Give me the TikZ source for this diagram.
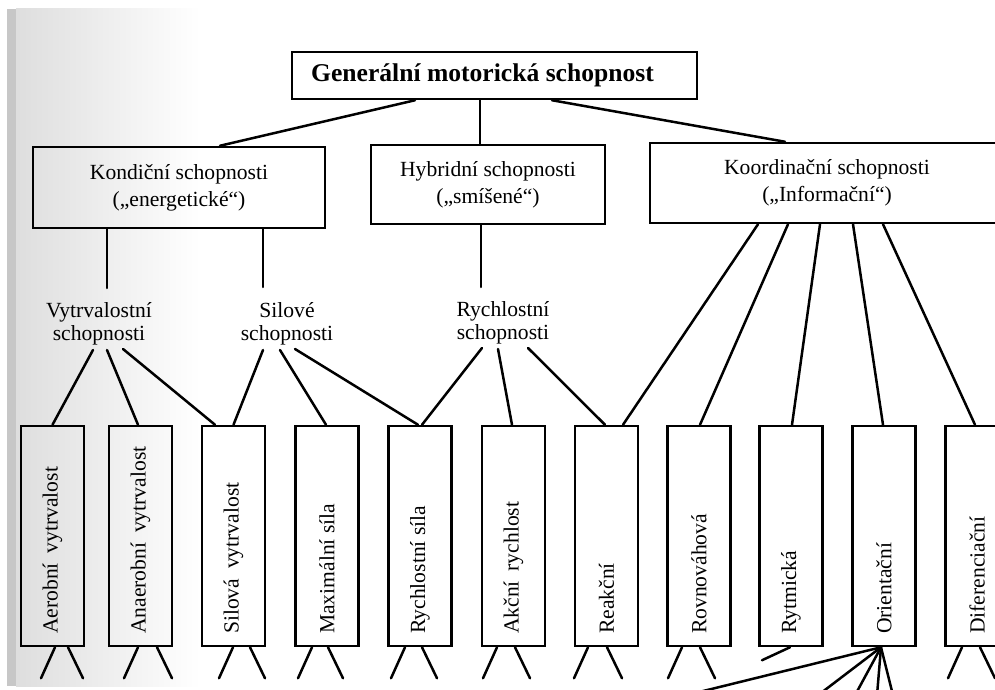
\documentclass[tikz,border=0pt]{standalone}
\usepackage{fontspec}
\setmainfont{Liberation Serif}
\usetikzlibrary{calc}
\begin{document}
\begin{tikzpicture}[x=0.5pt,y=-0.5pt]
\tikzset{
 ln/.style={line width=1.25pt, line cap=round},
 hbox/.style={draw, line width=1.25pt, inner sep=0pt, align=center, font=\fontsize{10.8}{13.5}\selectfont},
 vbox/.style={draw, line width=1.25pt, inner sep=0pt, minimum width=31.5pt, minimum height=110pt},
 vtext/.style={rotate=90, anchor=west, inner sep=0pt, font=\fontsize{10.8}{13}\selectfont},
 midlabel/.style={align=center, inner sep=0pt, font=\fontsize{10.8}{11.5}\selectfont},
}
\useasboundingbox (0,0) rectangle (995,690);
\clip (0,0) rectangle (995,690);
% scan shading at the left edge
\fill[black!22] (7,9) rectangle (16,686);
\shade[left color=black!13, right color=white] (16,9) rectangle (200,686);

% top
\node[hbox, minimum width=202.5pt, minimum height=23.5pt, font=\bfseries\fontsize{12.8}{15}\selectfont] (g) at (494.5,75.5) {Generální motorická schopnost\kern12pt};
\node[hbox, minimum width=146pt, minimum height=40.5pt] (kon) at (179,187.5) {Kondiční schopnosti\\(„energetické“)};
\node[hbox, minimum width=117pt, minimum height=39.5pt] (hyb) at (488,184.5) {Hybridní schopnosti\\(„smíšené“)};
\node[hbox, minimum width=177pt, minimum height=40pt] (koo) at (827,183) {Koordinační schopnosti\\(„Informační“)};

% middle labels
\node[midlabel] (vyt) at (99,324) {Vytrvalostní\\schopnosti};
\node[midlabel] (sil) at (287,324) {Silové\\schopnosti};
\node[midlabel] (ryc) at (503,323) {Rychlostní\\schopnosti};

% bottom boxes
\foreach \n/\x in {1/52.5, 2/140.5, 3/233.5, 4/327, 5/420, 6/513.5, 7/606.5, 8/699, 9/791, 10/884, 11/977}
  \node[vbox] (b\n) at (\x,536) {};
\node[vtext] (t1) at ($(b1.south)+(0,-13)$) {Aerobní\hspace{0.45em}vytrvalost};
\node[vtext] (t2) at ($(b2.south)+(0,-13)$) {Anaerobní\hspace{0.45em}vytrvalost};
\node[vtext] (t3) at ($(b3.south)+(0,-13)$) {Silová\hspace{0.45em}vytrvalost};
\node[vtext] (t4) at ($(b4.south)+(0,-13)$) {Maximální síla};
\node[vtext] (t5) at ($(b5.south)+(0,-13)$) {Rychlostní síla};
\node[vtext] (t6) at ($(b6.south)+(0,-13)$) {Akční\hspace{0.45em}rychlost};
\node[vtext] (t7) at ($(b7.south)+(0,-13)$) {Reakční};
\node[vtext] (t8) at ($(b8.south)+(0,-13)$) {Rovnováhová};
\node[vtext] (t9) at ($(b9.south)+(0,-13)$) {Rytmická};
\node[vtext] (t10) at ($(b10.south)+(0,-13)$) {Orientační};
\node[vtext] (t11) at ($(b11.south)+(0,-13)$) {Diferenciační};

% connectors top
\draw[ln] ($(g.south)+(-79.5,0)$) -- ($(kon.north)+(41,0)$);
\draw[ln] ($(g.south)+(-14.5,0)$) -- ($(hyb.north)+(-8,0)$);
\draw[ln] ($(g.south)+(57.5,0)$) -- ($(koo.north)+(-42,0)$);
\draw[ln] ($(kon.south)+(-72,0)$) -- ($(vyt.center)+(8,-36)$);
\draw[ln] ($(kon.south)+(84,0)$) -- ($(sil.center)+(-24,-37)$);
\draw[ln] ($(hyb.south)+(-7,0)$) -- ($(ryc.center)+(-22,-36)$);

% middle to bottom
\draw[ln] ($(vyt.center)+(-6,26)$) -- (b1.north);
\draw[ln] ($(vyt.center)+(8,26)$) -- ($(b2.north)+(-2.5,0)$);
\draw[ln] ($(vyt.center)+(24,25)$) -- ($(b3.north)+(-18.5,0)$);
\draw[ln] ($(sil.center)+(-24,26)$) -- (b3.north);
\draw[ln] ($(sil.center)+(-7,26)$) -- ($(b4.north)+(-1,0)$);
\draw[ln] ($(sil.center)+(8,25)$) -- ($(b5.north)+(-2,0)$);
\draw[ln] ($(ryc.center)+(-21,25)$) -- ($(b5.north)+(2,0)$);
\draw[ln] ($(ryc.center)+(-5,26)$) -- ($(b6.north)+(-1.5,0)$);
\draw[ln] ($(ryc.center)+(25,25)$) -- ($(b7.north)+(-1.5,0)$);
\draw[ln] ($(koo.south)+(-69,0)$) -- ($(b7.north)+(16.5,0)$);
\draw[ln] ($(koo.south)+(-39,0)$) -- ($(b8.north)+(1,0)$);
\draw[ln] ($(koo.south)+(-7,0)$) -- ($(b9.north)+(1,0)$);
\draw[ln] ($(koo.south)+(26,0)$) -- ($(b10.north)+(-1,0)$);
\draw[ln] ($(koo.south)+(56,0)$) -- ($(b11.north)+(-2,0)$);

% legs below boxes
\foreach \n/\a/\b in {1/2.5/15.5, 2/-2.5/16.5, 3/-0.5/16.5, 4/-15/1, 5/-15/2, 6/-16.5/1.5, 7/-18.5/0.5, 8/-17/1, 11/-15/3} {
  \draw[ln] ($(b\n.south)+(\a,0)$) -- ++(-14,31);
  \draw[ln] ($(b\n.south)+(\b,0)$) -- ++(15,31);
}
\draw[ln] ($(b9.south)+(-1,0)$) -- ++(-28,13);
\coordinate (of) at ($(b10.south)+(-3,0)$);
\foreach \dx in {-195,-63,-26,-4,12}
  \draw[ln] (of) -- ++(\dx,48);
\end{tikzpicture}
\end{document}
